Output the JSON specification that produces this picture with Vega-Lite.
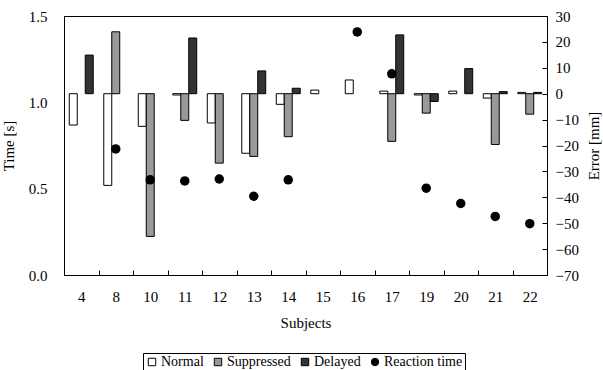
{
  "$schema": "https://vega.github.io/schema/vega-lite/v6.json",
  "width": 483,
  "height": 259,
  "autosize": {"type": "none"},
  "padding": {"left": 64, "top": 16, "right": 56, "bottom": 95},
  "background": "white",
  "config": {
    "font": "Times New Roman, Liberation Serif, serif",
    "view": {"stroke": "black", "strokeWidth": 1},
    "axis": {"grid": false, "domainColor": "black", "tickColor": "black", "labelColor": "black", "titleColor": "black", "labelFont": "Times New Roman, Liberation Serif, serif", "titleFont": "Times New Roman, Liberation Serif, serif", "titleFontWeight": "normal", "labelFontSize": 15, "titleFontSize": 15},
    "legend": {"labelFont": "Times New Roman, Liberation Serif, serif", "labelFontSize": 14, "labelColor": "black"}
  },
  "datasets": {
    "errors": [
      {"subject": "4", "series": "Normal", "error": -12.1},
      {"subject": "4", "series": "Delayed", "error": 14.9},
      {"subject": "8", "series": "Normal", "error": -35.4},
      {"subject": "8", "series": "Suppressed", "error": 23.9},
      {"subject": "10", "series": "Normal", "error": -12.6},
      {"subject": "10", "series": "Suppressed", "error": -55.1},
      {"subject": "11", "series": "Normal", "error": -0.5},
      {"subject": "11", "series": "Suppressed", "error": -10.3},
      {"subject": "11", "series": "Delayed", "error": 21.5},
      {"subject": "12", "series": "Normal", "error": -11.3},
      {"subject": "12", "series": "Suppressed", "error": -26.8},
      {"subject": "13", "series": "Normal", "error": -23.0},
      {"subject": "13", "series": "Suppressed", "error": -24.2},
      {"subject": "13", "series": "Delayed", "error": 8.8},
      {"subject": "14", "series": "Normal", "error": -4.1},
      {"subject": "14", "series": "Suppressed", "error": -16.6},
      {"subject": "14", "series": "Delayed", "error": 2.1},
      {"subject": "15", "series": "Normal", "error": 1.4},
      {"subject": "16", "series": "Normal", "error": 5.3},
      {"subject": "17", "series": "Normal", "error": 1.0},
      {"subject": "17", "series": "Suppressed", "error": -18.4},
      {"subject": "17", "series": "Delayed", "error": 22.7},
      {"subject": "19", "series": "Normal", "error": -0.5},
      {"subject": "19", "series": "Suppressed", "error": -7.5},
      {"subject": "19", "series": "Delayed", "error": -3.0},
      {"subject": "20", "series": "Normal", "error": 1.0},
      {"subject": "20", "series": "Delayed", "error": 9.7},
      {"subject": "21", "series": "Normal", "error": -1.7},
      {"subject": "21", "series": "Suppressed", "error": -19.6},
      {"subject": "21", "series": "Delayed", "error": 0.8},
      {"subject": "22", "series": "Normal", "error": 0.5},
      {"subject": "22", "series": "Suppressed", "error": -7.9},
      {"subject": "22", "series": "Delayed", "error": 0.5}
    ],
    "times": [
      {"subject": "8", "series": "Reaction time", "time": 0.73},
      {"subject": "10", "series": "Reaction time", "time": 0.551},
      {"subject": "11", "series": "Reaction time", "time": 0.545},
      {"subject": "12", "series": "Reaction time", "time": 0.556},
      {"subject": "13", "series": "Reaction time", "time": 0.456},
      {"subject": "14", "series": "Reaction time", "time": 0.551},
      {"subject": "16", "series": "Reaction time", "time": 1.408},
      {"subject": "17", "series": "Reaction time", "time": 1.165},
      {"subject": "19", "series": "Reaction time", "time": 0.503},
      {"subject": "20", "series": "Reaction time", "time": 0.414},
      {"subject": "21", "series": "Reaction time", "time": 0.339},
      {"subject": "22", "series": "Reaction time", "time": 0.297}
    ]
  },
  "encoding": {
    "x": {
      "field": "subject",
      "type": "ordinal",
      "sort": ["4", "8", "10", "11", "12", "13", "14", "15", "16", "17", "19", "20", "21", "22"],
      "scale": {"paddingInner": 0, "paddingOuter": 0},
      "axis": {"title": "Subjects", "labelAngle": 0, "tickBand": "extent", "tickSize": -5, "labelPadding": 19, "titlePadding": 11, "domainColor": "black"}
    }
  },
  "layer": [
    {
      "data": {"name": "errors"},
      "mark": {"type": "bar", "stroke": "black", "strokeWidth": 1},
      "encoding": {
        "xOffset": {"field": "series", "type": "nominal", "sort": ["Normal", "Suppressed", "Delayed"], "scale": {"domain": ["Normal", "Suppressed", "Delayed"], "paddingInner": 0, "paddingOuter": 0.66}},
        "y": {
          "field": "error",
          "type": "quantitative",
          "scale": {"domain": [-70, 30], "nice": false},
          "axis": {"orient": "right", "title": "Error [mm]", "titleAngle": 270, "titleBaseline": "top", "values": [-70, -60, -50, -40, -30, -20, -10, 0, 10, 20, 30], "tickSize": -5, "labelPadding": 13, "titlePadding": 8, "domainColor": "black"}
        },
        "color": {
          "field": "series",
          "type": "nominal",
          "scale": {"domain": ["Normal", "Suppressed", "Delayed", "Reaction time"], "range": ["#ffffff", "#999999", "#333333", "#000000"]},
          "legend": {
            "title": null,
            "orient": "none",
            "legendX": 79,
            "legendY": 337,
            "direction": "horizontal",
            "strokeColor": "black",
            "fillColor": "white",
            "padding": 2,
            "symbolStrokeColor": "black",
            "symbolStrokeWidth": 1,
            "symbolSize": 55,
            "columnPadding": 7,
            "labelOffset": 2,
            "encode": {"symbols": {"update": {"shape": {"signal": "datum.value === 'Reaction time' ? 'circle' : 'square'"}, "stroke": {"value": "black"}}}}
          }
        }
      }
    },
    {
      "data": {"name": "times"},
      "mark": {"type": "circle", "size": 90, "opacity": 1},
      "encoding": {
        "y": {
          "field": "time",
          "type": "quantitative",
          "scale": {"domain": [0, 1.5], "nice": false},
          "axis": {"orient": "left", "title": "Time [s]", "values": [0, 0.5, 1.0, 1.5], "format": ".1f", "ticks": false, "tickSize": 0, "labelPadding": 17, "titlePadding": 12, "domainColor": "black"}
        },
        "color": {"field": "series", "type": "nominal"}
      }
    }
  ],
  "resolve": {"scale": {"y": "independent"}}
}
